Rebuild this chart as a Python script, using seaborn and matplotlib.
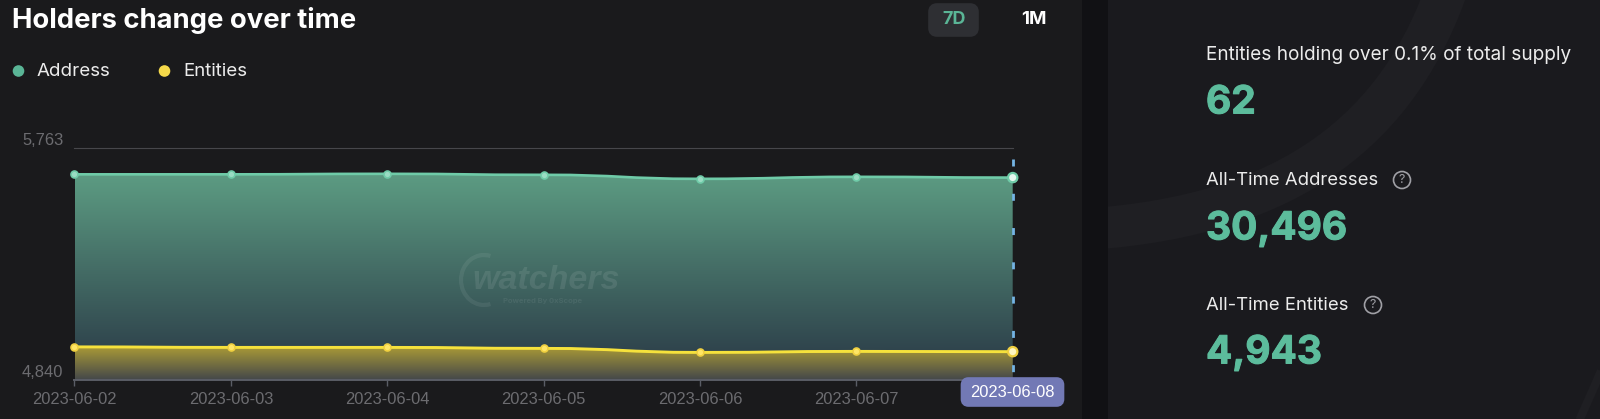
import numpy as np
import pandas as pd
import seaborn as sns
import matplotlib.pyplot as plt
import matplotlib.dates as mdates
import matplotlib.patheffects as pe
from matplotlib.path import Path
from matplotlib.patches import PathPatch, FancyBboxPatch, Circle, Rectangle, Arc
from matplotlib.colors import LinearSegmentedColormap

# chart values
dates = pd.to_datetime(["2023-06-02", "2023-06-03", "2023-06-04", "2023-06-05",
                        "2023-06-06", "2023-06-07", "2023-06-08"])
address = [5660, 5660, 5662, 5658, 5642, 5650, 5647]
entities = [4972, 4970, 4970, 4966, 4950, 4954, 4953]
y_ticks = [4840, 5763]
y_labels = ["4,840", "5,763"]
stats = ["Entities holding over 0.1% of total supply", "All-Time Addresses", "All-Time Entities"]
stat_values = ["62", "30,496", "4,943"]

BG = "#1a1a1c"
GREEN = "#5ab596"
VALUE_GREEN = "#5cbc9c"
YELLOW = "#f5d94a"
GREY = "#6c6c70"

W, H = 1600, 419


# Smooth curve through the points, flat at every point like the original chart
def curve_path(xs, ys, base=None):
    verts = [(xs[0], ys[0])]
    codes = [Path.MOVETO]
    for i in range(len(xs) - 1):
        mid = (xs[i] + xs[i + 1]) / 2
        verts += [(mid, ys[i]), (mid, ys[i + 1]), (xs[i + 1], ys[i + 1])]
        codes += [Path.CURVE4] * 3
    if base is not None:
        verts += [(xs[-1], base), (xs[0], base), (xs[0], ys[0])]
        codes += [Path.LINETO, Path.LINETO, Path.CLOSEPOLY]
    return Path(verts, codes)


# Vertical gradient clipped to the area under a series
def gradient_area(ax, xs, ys, top_val, base, top_col, bottom_col):
    cmap = LinearSegmentedColormap.from_list("g", [bottom_col, top_col])
    grad = np.linspace(1, 0, 256).reshape(-1, 1)
    im = ax.imshow(grad, cmap=cmap, aspect="auto", zorder=1,
                   extent=[xs[0], xs[-1], base, top_val])
    patch = PathPatch(curve_path(xs, ys, base), transform=ax.transData, fc="none", ec="none")
    ax.add_patch(patch)
    im.set_clip_path(patch)


sns.set_theme(style="dark")
plt.rcParams["font.family"] = ["Inter", "Liberation Sans", "DejaVu Sans"]

fig = plt.figure(figsize=(W / 100, H / 100), dpi=100, facecolor=BG)

# main chart
left, right, top, bottom = 74.5, 1012.7, 148.5, 380
ax = fig.add_axes([left / W, 1 - bottom / H, (right - left) / W, (bottom - top) / H])
ax.set_facecolor(BG)

df = pd.DataFrame({"date": dates, "Address": address, "Entities": entities})
long_df = df.melt("date", var_name="series", value_name="holders")
palette = {"Address": "#9adcc3", "Entities": "#ffe666"}

xs = mdates.date2num(dates)
gradient_area(ax, xs, address, 5655, 4840, "#5c9b82", "#283644")
gradient_area(ax, xs, entities, 4972, 4840, "#ab9b36", "#43474a")

ax.add_patch(PathPatch(curve_path(xs, address), fc="none", ec="#6fcba8", lw=1.9, zorder=3))
ax.add_patch(PathPatch(curve_path(xs, entities), fc="none", ec="#f6e23c", lw=2.1, zorder=3))

# hover line at the last day, dashes counted from the top
ax.plot([dates[-1], dates[-1]], [5721, 4840], color="#74b4e4", lw=2.0, zorder=3.5,
        linestyle=(0, (2.52, 9.82)), dash_capstyle="butt", clip_on=False)

sns.lineplot(data=long_df, x="date", y="holders", hue="series", palette=palette, ax=ax,
             linewidth=0, marker="o", markersize=5, markeredgewidth=1.2,
             legend=False, zorder=4, clip_on=False)
ax.lines[-2].set_markeredgecolor("#6fcba8")
ax.lines[-1].set_markeredgecolor("#f0d040")

last = long_df[long_df["date"] == dates[-1]]
sns.scatterplot(data=last, x="date", y="holders", hue="series",
                palette={"Address": "#e6f7ef", "Entities": "#fff6c0"}, ax=ax, s=45,
                linewidth=1.6, edgecolor=["#6fcba8", "#f0d040"], legend=False, zorder=5, clip_on=False)

ax.set_xlim(dates[0], dates[-1])
ax.set_ylim(y_ticks[0], y_ticks[1])
ax.set_xlabel("")
ax.set_ylabel("")
ax.grid(False)

ax.set_xticks(dates)
ax.set_xticklabels([d.strftime("%Y-%m-%d") for d in dates[:-1]] + [""],
                   fontfamily="Liberation Sans", fontsize=11.9, color=GREY)
ax.tick_params(axis="x", length=4.3, width=1, color="#5a5d66", pad=4.2, bottom=True)
ax.set_yticks(y_ticks)
ax.set_yticklabels(y_labels, fontfamily="Liberation Sans", fontsize=11.9, color=GREY, va="bottom")
ax.tick_params(axis="y", length=0, pad=8)
for side in ["left", "right"]:
    ax.spines[side].set_visible(False)
ax.spines["top"].set_color("#47474b")
ax.spines["top"].set_linewidth(0.8)
ax.spines["bottom"].set_color("#5a5d66")
ax.spines["bottom"].set_linewidth(1.4)

# everything around the chart, in pixel coordinates
over = fig.add_axes([0, 0, 1, 1], zorder=5)
over.set_xlim(0, W)
over.set_ylim(H, 0)
over.axis("off")

over.add_patch(Rectangle((1082, 0), 26, H, fc="#111114", ec="none"))
over.add_patch(Rectangle((1108, 0), W - 1108, H, fc="#1a1a1e", ec="none", zorder=0.5))
panel_clip = Rectangle((1108, 0), W - 1108, H, transform=over.transData, fc="none", ec="none")
over.add_patch(panel_clip)
arc_path = Path([(1090, 229), (1290, 215), (1400, 130), (1450, -20)],
                [Path.MOVETO, Path.CURVE4, Path.CURVE4, Path.CURVE4])
band = PathPatch(arc_path, fc="none", ec="#1f1f23", lw=30, zorder=0.6, capstyle="butt")
over.add_patch(band)
band.set_clip_path(panel_clip)
corner = PathPatch(Path([(1610, 350), (1595, 385), (1575, 430)]), fc="none", ec="#1f1f23",
                   lw=6, zorder=0.6)
over.add_patch(corner)
corner.set_clip_path(panel_clip)

over.text(12.5, 21, "Holders change over time", color="white", fontsize=19.75,
          fontweight="bold", va="center")

over.add_patch(Circle((18.5, 71), 5.8, fc=GREEN, ec="none"))
over.text(37, 71, "Address", color="#ececec", fontsize=13.5, va="center")
over.add_patch(Circle((164.5, 71), 5.8, fc=YELLOW, ec="none"))
over.text(183, 71, "Entities", color="#ececec", fontsize=13.5, va="center")

over.add_patch(FancyBboxPatch((932, 7), 43, 26, boxstyle="round,pad=0,rounding_size=5",
                              fc="#2e2f33", ec="#2e2f33", lw=5.5))
over.text(954, 20, "7D", color=GREEN, fontsize=13, fontweight="bold", ha="center", va="center")
over.text(1034, 20, "1M", color="white", fontsize=13.5, fontweight="bold", ha="center", va="center")

over.add_patch(FancyBboxPatch((964.5, 381), 96, 22, boxstyle="round,pad=0,rounding_size=4",
                              fc="#7279b5", ec="#7279b5", lw=5.5, zorder=6))
over.text(1012, 392, "2023-06-08", color="white", fontsize=11.9, family="Liberation Sans",
          ha="center", va="center", zorder=7)

# watermark
over.add_patch(Arc((484, 280), 46, 50, theta1=75, theta2=285, ec="#ffffff", alpha=0.07, lw=3))
over.text(546, 280, "watchers", color="#ffffff", alpha=0.09, fontsize=24.5, fontweight="bold",
          fontstyle="italic", family="Liberation Sans", ha="center", va="center")
over.text(543, 301, "Powered By 0xScope", color="#ffffff", alpha=0.07, fontsize=5.5,
          fontweight="bold", ha="center", va="center")

# stats on the right
label_y = [55, 180, 305]
value_y = [103, 229, 353]
label_size = [13.65, 13.35, 13.35]
for name, val, ly, vy, size in zip(stats, stat_values, label_y, value_y, label_size):
    over.text(1206, ly, name, color="#ececec", fontsize=size, va="center")
    over.text(1206, vy, val, color=VALUE_GREEN, fontsize=28, fontweight="bold", va="center",
              path_effects=[pe.withStroke(linewidth=0.7, foreground=VALUE_GREEN)])

for cx, cy in [(1402, 180), (1373, 305)]:
    over.add_patch(Circle((cx, cy), 8.5, fc="none", ec="#a0a0a6", lw=1.2))
    over.text(cx, cy, "?", color="#a0a0a6", fontsize=9, ha="center", va="center")

fig.savefig("out.png", dpi=100, facecolor=BG)
